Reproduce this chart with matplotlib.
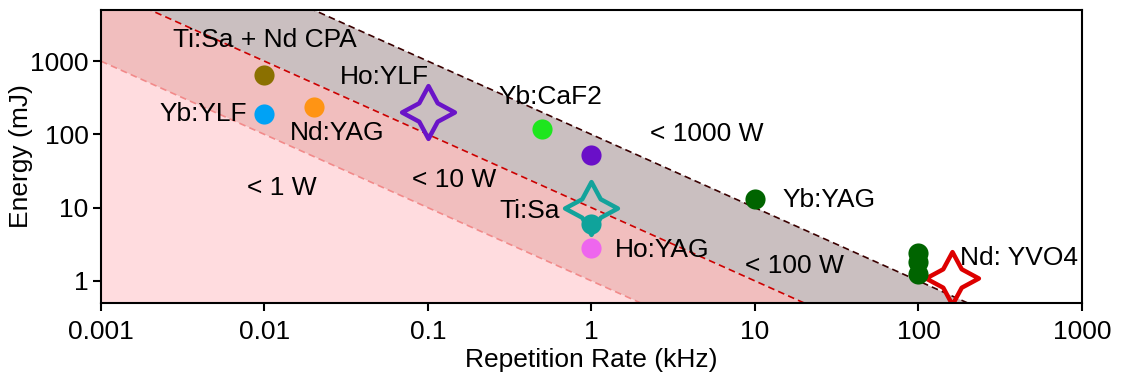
import numpy as np
import matplotlib
matplotlib.use('Agg')
import matplotlib.pyplot as plt
from matplotlib.path import Path

plt.rcParams['font.family'] = ['Liberation Sans', 'DejaVu Sans']
plt.rcParams['font.size'] = 19

# Laser systems: repetition rate (kHz) and pulse energy (mJ)
dot_rates = [0.01, 0.01, 0.02, 0.5, 1, 1, 1, 10, 100, 100, 100]
dot_energies = [650, 190, 240, 118, 53, 5.9, 2.8, 13, 2.4, 1.8, 1.25]
dot_colors = ['#8B7000', '#00A2F5', '#FF9414', '#1EE61E', '#6A0FC8',
              '#0FA39B', '#EE66EE', '#006400', '#006400', '#006400', '#006400']

star_rates = [0.1, 1, 160]
star_energies = [200, 10, 1.1]
star_colors = ['#6A14C8', '#13A39B', '#DD0000']

# Average power limits (W): E[mJ] = P[W] / f[kHz]
power_limits = [1, 10, 100]
line_colors = ['#F28A8A', '#CC0000', '#3A0000']
region_colors = ['#FFDCDF', '#F1BEBE', '#CABFC0']

labels = ['Ti:Sa + Nd CPA', 'Yb:YLF', 'Nd:YAG', 'Ho:YLF', 'Yb:CaF2', '< 1000 W',
          '< 10 W', '< 1 W', 'Ti:Sa', 'Ho:YAG', 'Yb:YAG', 'Nd: YVO4', '< 100 W']
label_x = [0.01, 0.0078, 0.0143, 0.029, 0.268, 2.28,
           0.080, 0.0078, 0.642, 1.39, 14.8, 179, 8.7]
label_y = [1940, 188, 106, 600, 321, 100, 24, 18.8, 9.1, 2.66, 12.9, 2.06, 1.6]
label_ha = ['center', 'right', 'left', 'left', 'left', 'left',
            'left', 'left', 'right', 'left', 'left', 'left', 'left']

# four-pointed star outline
k = 0.35
star_path = Path(
    [(0, 1), (k, k), (1, 0), (k, -k), (0, -1), (-k, -k), (-1, 0), (-k, k), (0, 1)],
    [Path.MOVETO] + [Path.LINETO] * 7 + [Path.CLOSEPOLY])

fig = plt.figure(figsize=(11.21, 3.77), dpi=100)
ax = fig.add_axes([0.0901, 0.1963, 0.8751, 0.7772])

xmin, xmax = 1e-3, 1e3
ymin, ymax = 0.5, 5000
f = np.array([xmin, xmax])

lower = np.full_like(f, 1e-3)
for p, fc in zip(power_limits, region_colors):
    ax.fill_between(f, lower, p / f, color=fc, lw=0, zorder=1)
    lower = p / f
for p, lc in zip(power_limits, line_colors):
    ax.plot(f, p / f, ls=(0, (4, 2.5)), color=lc, lw=1.2, zorder=2)

for x, y, col in zip(star_rates, star_energies, star_colors):
    ax.plot(x, y, marker=star_path, ms=38, mfc='none', mec=col, mew=3.2,
            zorder=3)
for x, y, col in zip(dot_rates, dot_energies, dot_colors):
    ax.plot(x, y, 'o', ms=14.5, color=col, mec='none', zorder=4)

for t, x, y, ha in zip(labels, label_x, label_y, label_ha):
    ax.text(x, y, t, ha=ha, va='center', zorder=5)

ax.set_xscale('log')
ax.set_yscale('log')
ax.set_xlim(xmin, xmax)
ax.set_ylim(ymin, ymax)
ax.set_xticks([0.001, 0.01, 0.1, 1, 10, 100, 1000])
ax.set_xticklabels(['0.001', '0.01', '0.1', '1', '10', '100', '1000'])
ax.set_yticks([1, 10, 100, 1000])
ax.set_yticklabels(['1', '10', '100', '1000'])
ax.minorticks_off()
ax.tick_params(length=6, width=1.5, pad=3)
ax.tick_params(axis='x', pad=6)
for s in ax.spines.values():
    s.set_linewidth(1.5)
    s.set_zorder(6)
ax.set_xlabel('Repetition Rate (kHz)')
ax.set_ylabel('Energy (mJ)')
ax.xaxis.set_label_coords(0.5, -0.155)
ax.yaxis.set_label_coords(-0.069, 0.5)

fig.savefig('out.png', dpi=100)
